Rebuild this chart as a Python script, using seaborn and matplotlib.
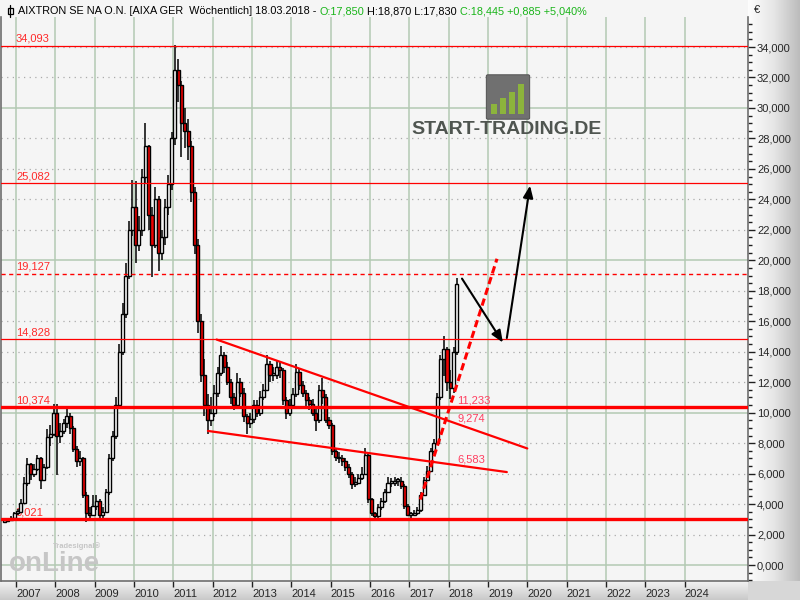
import numpy as np
import pandas as pd
import matplotlib
matplotlib.use('Agg')
import matplotlib.pyplot as plt
import seaborn as sns
from matplotlib.colors import LinearSegmentedColormap
from matplotlib.patches import Rectangle, FancyBboxPatch

# monthly candles (Sep 2006 - Mar 2018)
close_2006 = [2.90, 2.95, 3.10, 3.40]
high_2006 = [3.00, 3.00, 3.20, 3.50]
low_2006 = [2.80, 2.80, 2.90, 3.00]

close_2007 = [3.5, 4.1, 5.4, 6.6, 6.0, 6.3, 7.0, 5.6, 6.4, 8.4, 8.6, 10.0]
high_2007 = [3.7, 4.3, 5.8, 7.0, 6.7, 6.6, 7.2, 7.1, 6.6, 8.9, 9.2, 10.6]
low_2007 = [3.3, 3.5, 4.0, 5.2, 5.6, 5.8, 6.2, 5.0, 5.5, 6.3, 7.8, 8.5]

close_2008 = [8.5, 8.8, 9.3, 9.8, 9.0, 7.6, 6.8, 7.0, 4.6, 3.4, 3.3, 3.9]
high_2008 = [10.6, 9.3, 9.6, 10.3, 10.0, 9.1, 7.8, 7.5, 7.1, 4.8, 3.8, 4.6]
low_2008 = [5.9, 8.0, 8.6, 9.0, 8.6, 7.4, 6.4, 6.5, 4.4, 2.8, 2.9, 3.2]

close_2009 = [4.2, 3.3, 3.5, 4.8, 7.0, 8.5, 10.5, 14.0, 16.5, 19.0, 22.0, 23.5]
high_2009 = [4.6, 4.3, 3.8, 5.0, 7.3, 8.8, 11.0, 14.5, 17.2, 19.8, 22.6, 25.3]
low_2009 = [3.6, 3.0, 3.1, 3.4, 4.6, 6.8, 8.3, 10.3, 13.8, 16.2, 18.8, 21.6]

close_2010 = [21.0, 22.0, 25.5, 27.5, 23.0, 21.0, 24.0, 20.5, 21.5, 23.5, 25.0, 28.0]
high_2010 = [25.2, 22.9, 26.0, 29.0, 27.6, 23.5, 24.8, 24.2, 22.0, 24.0, 25.6, 28.4]
low_2010 = [19.8, 20.6, 21.6, 25.0, 22.0, 18.9, 20.8, 19.3, 20.0, 21.0, 23.0, 24.6]

close_2011 = [32.5, 31.5, 29.0, 28.5, 27.5, 24.5, 21.0, 16.0, 12.5, 10.5, 9.5, 10.0]
high_2011 = [34.1, 33.2, 31.8, 30.0, 29.3, 27.8, 24.8, 21.4, 16.5, 13.5, 11.2, 11.0]
low_2011 = [27.6, 30.4, 26.8, 27.4, 26.6, 23.8, 20.4, 15.2, 12.0, 9.8, 8.6, 9.1]

close_2012 = [11.3, 12.6, 13.8, 13.0, 12.0, 11.0, 10.5, 12.0, 11.3, 9.8, 9.3, 9.6]
high_2012 = [11.8, 13.0, 14.4, 14.0, 13.3, 12.2, 11.3, 12.6, 12.3, 11.6, 9.9, 10.0]
low_2012 = [9.7, 11.0, 12.4, 12.6, 11.8, 10.6, 10.2, 10.3, 11.0, 9.4, 8.6, 9.0]

close_2013 = [10.5, 10.0, 11.0, 11.5, 13.2, 12.5, 12.5, 13.0, 12.8, 10.8, 10.0, 10.5]
high_2013 = [10.8, 10.8, 11.4, 11.9, 13.8, 13.4, 13.0, 13.4, 13.3, 12.9, 11.0, 10.9]
low_2013 = [9.3, 9.7, 9.8, 10.8, 11.4, 12.0, 12.1, 12.2, 12.3, 10.5, 9.6, 9.8]

close_2014 = [11.2, 12.7, 11.8, 11.3, 10.8, 10.6, 10.0, 9.5, 11.5, 11.0, 9.5, 9.2]
high_2014 = [11.6, 13.2, 12.9, 12.1, 11.5, 11.0, 10.9, 10.3, 11.8, 12.3, 11.2, 9.7]
low_2014 = [10.3, 11.0, 11.5, 11.0, 10.4, 10.2, 9.8, 8.8, 9.3, 10.6, 9.3, 8.9]

close_2015 = [7.5, 7.1, 7.0, 6.8, 6.4, 6.0, 5.3, 5.4, 5.7, 6.0, 7.2, 4.3]
high_2015 = [9.3, 7.7, 7.4, 7.2, 7.0, 6.6, 6.1, 5.8, 6.0, 6.4, 7.7, 7.3]
low_2015 = [7.2, 6.8, 6.7, 6.5, 6.2, 5.7, 5.0, 5.1, 5.3, 5.6, 5.9, 4.1]

close_2016 = [3.4, 3.2, 3.8, 4.2, 4.8, 5.4, 5.4, 5.5, 5.5, 5.2, 3.9, 3.3]
high_2016 = [4.4, 3.5, 4.0, 4.4, 5.0, 5.8, 5.7, 5.8, 5.7, 5.8, 5.3, 4.0]
low_2016 = [3.2, 3.0, 3.1, 3.6, 4.1, 4.7, 5.1, 5.2, 5.2, 5.0, 3.7, 3.2]

close_2017 = [3.3, 3.4, 3.6, 4.6, 5.6, 6.2, 7.5, 8.0, 11.0, 13.5, 14.2, 12.0]
high_2017 = [3.5, 3.6, 3.8, 4.8, 5.8, 6.5, 7.7, 8.3, 11.3, 13.8, 15.0, 14.3]
low_2017 = [3.0, 3.2, 3.3, 3.5, 4.5, 5.5, 6.1, 7.3, 7.9, 10.8, 12.4, 11.4]

close_2018 = [11.6, 14.0, 18.445]
high_2018 = [12.8, 14.3, 18.87]
low_2018 = [10.9, 11.3, 13.8]

open_start = 2.85

# horizontal levels and trend lines drawn on the chart
levels = [34.093, 25.082, 19.127, 14.828, 10.374, 3.021]
upper_x = [2012.10, 2020.00]
upper_y = [14.80, 7.65]
lower_x = [2011.88, 2019.48]
lower_y = [8.80, 6.10]
proj_x = [2017.28, 2019.23]
proj_y = [4.30, 20.10]
arrow_down = [(2018.34, 18.8), (2019.38, 14.6)]
arrow_up = [(2019.48, 14.9), (2020.07, 24.9)]
trend_labels = ['11,233', '9,274', '6,583']
trend_label_y = [10.45, 9.27, 6.60]
years = list(range(2007, 2025))

closes = (close_2006 + close_2007 + close_2008 + close_2009 + close_2010 + close_2011
          + close_2012 + close_2013 + close_2014 + close_2015 + close_2016 + close_2017 + close_2018)
highs = (high_2006 + high_2007 + high_2008 + high_2009 + high_2010 + high_2011
         + high_2012 + high_2013 + high_2014 + high_2015 + high_2016 + high_2017 + high_2018)
lows = (low_2006 + low_2007 + low_2008 + low_2009 + low_2010 + low_2011
        + low_2012 + low_2013 + low_2014 + low_2015 + low_2016 + low_2017 + low_2018)

df = pd.DataFrame({'date': pd.date_range('2006-09-01', periods=len(closes), freq='MS'),
                   'close': closes, 'high': highs, 'low': lows})
df['open'] = df['close'].shift(1).fillna(open_start)
df['x'] = df['date'].dt.year + (df['date'].dt.month - 0.5) / 12
df['high'] = df[['high', 'open', 'close']].max(axis=1)
df['low'] = df[['low', 'open', 'close']].min(axis=1)

sns.set_theme(style='white')
plt.rcParams['font.family'] = ['Liberation Sans', 'DejaVu Sans']

W, H = 800, 600
RED = '#ff0000'
LBL = '#ff2a2a'
GRID = '#b3c9b3'

fig = plt.figure(figsize=(8, 6), dpi=100, facecolor='#f5f5f5')

# gradient panels for the axes areas
axr = fig.add_axes([748 / W, 19 / H, 52 / W, 581 / H], zorder=0)
axr.imshow(np.linspace(0, 1, 100)[None, :], aspect='auto', extent=[0, 1, 0, 1],
           cmap=LinearSegmentedColormap.from_list('r', ['#fdfdfd', '#e6e6e6', '#bcbcbc']))
axr.axis('off')
axb = fig.add_axes([0, 0, 748 / W, 19 / H], zorder=0)
axb.imshow(np.linspace(0, 1, 50)[:, None], aspect='auto', extent=[0, 1, 0, 1],
           cmap=LinearSegmentedColormap.from_list('b', ['#f3f3f3', '#c9c9c9']))
axb.axis('off')
fig.patches.append(Rectangle((748 / W, 0), 52 / W, 19 / H, transform=fig.transFigure,
                             facecolor='#d7d7d7', edgecolor='none', zorder=0))

ax = fig.add_axes([1 / W, 19 / H, 747 / W, 564 / H], zorder=1)
ax.set_facecolor('#f5f5f5')
ax.set_xlim(2006.619, 2025.612)
ax.set_ylim(-1.05, 35.97)

# grid
for v in range(0, 35, 2):
    if v % 10 == 0:
        ax.axhline(v, color=GRID, lw=1.1, zorder=0)
    else:
        ax.axhline(v, color='#ababab', lw=0.9, ls=(0, (1, 3.5)), zorder=0)
for yr in years:
    ax.axvline(yr, color=GRID, lw=1.1, zorder=0)

# watermark (behind the price candles)
ax.text(8 / 747, 10 / 564, 'onLine', transform=ax.transAxes, fontsize=20, weight='bold',
        color='#c6c6c6', ha='left', va='baseline', zorder=1)
ax.text(52 / 747, 33 / 564, 'Tradesignal\u00ae', transform=ax.transAxes, fontsize=5.5,
        weight='bold', color='#c6c6c6', ha='left', va='baseline', zorder=1)

# candles
up = df['close'] >= df['open']
ax.vlines(df['x'], df['low'], df['high'], color='black', lw=1.1, zorder=3)
body_lo = df[['open', 'close']].min(axis=1)
body_h = (df['close'] - df['open']).abs().clip(lower=0.12)
ax.bar(df['x'], body_h, bottom=body_lo, width=0.078,
       color=np.where(up, 'white', '#ee0000'), edgecolor='black', linewidth=1.0, zorder=3)

# horizontal levels
level_width = {34.093: 0.9, 25.082: 0.9, 19.127: 1.0, 14.828: 0.9, 10.374: 2.4, 3.021: 2.4}
for v in levels:
    ls = (0, (3, 2.5)) if v == 19.127 else '-'
    ax.axhline(v, color=RED, lw=level_width[v], ls=ls, zorder=4)
    ax.text(2007.0, v + 0.12, f'{v:.3f}'.replace('.', ','), color=LBL, fontsize=8,
            ha='left', va='bottom', zorder=2)

# trend channel and projection
sns.lineplot(x=upper_x, y=upper_y, ax=ax, color=RED, lw=1.6, zorder=4)
sns.lineplot(x=lower_x, y=lower_y, ax=ax, color=RED, lw=1.6, zorder=4)
ax.plot(proj_x, proj_y, color=RED, lw=2.2, ls=(0, (2.4, 1.3)), zorder=4)

for (x0, y0), (x1, y1) in [arrow_down, arrow_up]:
    ax.annotate('', xy=(x1, y1), xytext=(x0, y0),
                arrowprops=dict(arrowstyle='-|>,head_length=0.6,head_width=0.25',
                                color='black', lw=1.5, shrinkA=0, shrinkB=0), zorder=5)

for s, v in zip(trend_labels, trend_label_y):
    ax.text(2018.22, v, s, color='#ff3f60', fontsize=8, ha='left', va='bottom', zorder=5)

# axes styling
ax.yaxis.tick_right()
ax.set_yticks(np.arange(0, 35, 2))
ax.set_yticklabels([f'{v:.3f}'.replace('.', ',') for v in np.arange(0, 35, 2)])
ax.set_yticks(np.arange(-1, 36, 0.5), minor=True)
ax.set_xticks(years)
ax.set_xticklabels([str(y) for y in years], ha='left')
ax.tick_params(axis='y', which='major', direction='out', length=5, width=1, color='#202020',
               labelsize=8, pad=1.5, right=True, left=False)
ax.tick_params(axis='y', which='minor', direction='out', length=3, width=1, color='#202020',
               right=True, left=False)
ax.tick_params(axis='x', which='major', direction='out', length=4, width=1, color='#202020',
               labelsize=8, pad=2, bottom=True)
for side in ['left', 'right', 'bottom']:
    ax.spines[side].set_color('#6e6e6e')
    ax.spines[side].set_linewidth(1.2)
ax.spines['top'].set_visible(False)
ax.grid(False)

# header line
green = '#18b418'
parts = [('AIXTRON SE NA O.N. [AIXA GER  W\u00f6chentlich] 18.03.2018 - ', 'black'),
         ('O:17,850', green), (' H:18,870 L:17,830 ', 'black'), ('C:18,445 +0,885 +5,040%', green)]
header = [fig.text(18 / W, 1 - 16 / H, s, color=c, fontsize=7.8, va='bottom', ha='left')
          for s, c in parts]
renderer = fig.canvas.get_renderer()
x_cur = header[0].get_window_extent(renderer).x1 / W
for tx in header[1:]:
    tx.set_position((x_cur, 1 - 16 / H))
    x_cur = tx.get_window_extent(renderer).x1 / W

fig.patches.append(Rectangle((7.5 / W, 1 - 14 / H), 5 / W, 6 / H, transform=fig.transFigure,
                             facecolor='none', edgecolor='black', lw=0.9))
fig.lines.append(plt.Line2D([10 / W, 10 / W], [1 - 17 / H, 1 - 5 / H], transform=fig.transFigure,
                            color='black', lw=0.9))
fig.text(754 / W, 1 - 10 / H, '\u20ac', fontsize=8, va='center', ha='left')

# logo
fig.patches.append(FancyBboxPatch((488 / W, 1 - 118 / H), 40 / W, 42 / H,
                                  boxstyle='round,pad=0.002', transform=fig.transFigure,
                                  facecolor='#707070', edgecolor='#5a5a5a', lw=0.8, zorder=2))
for i, hgt in enumerate([10, 16, 22, 30]):
    fig.patches.append(Rectangle(((491 + i * 9) / W, 1 - 114 / H), 6 / W, hgt / H,
                                 transform=fig.transFigure, facecolor='#8cb43c',
                                 edgecolor='none', zorder=3))
fig.text(507 / W, 1 - 130 / H, 'START-TRADING.DE', fontsize=14, weight='bold', color='#4f5550',
         ha='center', va='center')

fig.savefig('out.png', dpi=100, facecolor=fig.get_facecolor())
